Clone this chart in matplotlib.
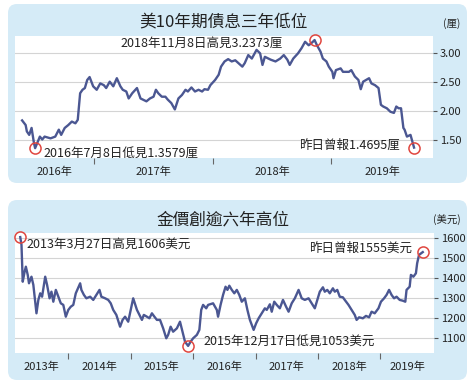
import matplotlib
matplotlib.use("Agg")
import matplotlib.pyplot as plt
from matplotlib.patches import FancyBboxPatch

plt.rcParams['font.family'] = ['Noto Sans CJK TC', 'DejaVu Sans']

# US 10-year yield (decimal year, percent)
bond_t = [2016.39, 2016.42, 2016.43, 2016.45, 2016.47, 2016.49, 2016.50, 2016.53, 2016.54, 2016.56,
          2016.58, 2016.63, 2016.67, 2016.70, 2016.72, 2016.75, 2016.78, 2016.81, 2016.84, 2016.86,
          2016.88, 2016.90, 2016.92, 2016.94, 2016.96, 2016.99, 2017.02, 2017.05, 2017.08, 2017.10,
          2017.13, 2017.16, 2017.19, 2017.22, 2017.24, 2017.27, 2017.29, 2017.32, 2017.36, 2017.39,
          2017.41, 2017.44, 2017.47, 2017.50, 2017.52, 2017.54, 2017.57, 2017.60, 2017.62, 2017.65,
          2017.68, 2017.71, 2017.74, 2017.77, 2017.79, 2017.82, 2017.85, 2017.88, 2017.91, 2017.93,
          2017.96, 2017.98, 2018.02, 2018.05, 2018.07, 2018.10, 2018.13, 2018.16, 2018.19,
          2018.25, 2018.27, 2018.30, 2018.33, 2018.37, 2018.40, 2018.42, 2018.44, 2018.49, 2018.53,
          2018.57, 2018.60, 2018.63, 2018.65, 2018.68, 2018.72, 2018.75, 2018.78, 2018.81, 2018.83,
          2018.86, 2018.88, 2018.91, 2018.93, 2018.96, 2018.98, 2019.01, 2019.02, 2019.04, 2019.08,
          2019.10, 2019.15, 2019.17, 2019.20, 2019.23, 2019.25, 2019.27, 2019.32, 2019.34, 2019.37,
          2019.40, 2019.42, 2019.44, 2019.47, 2019.50, 2019.53, 2019.55, 2019.57, 2019.59, 2019.61,
          2019.62, 2019.64, 2019.67, 2019.70]
bond_y = [1.84, 1.76, 1.65, 1.59, 1.71, 1.45, 1.36, 1.51, 1.56, 1.51,
          1.56, 1.53, 1.56, 1.68, 1.59, 1.71, 1.76, 1.82, 1.79, 1.85,
          2.31, 2.37, 2.40, 2.54, 2.59, 2.43, 2.37, 2.48, 2.45, 2.40,
          2.51, 2.43, 2.57, 2.43, 2.37, 2.34, 2.22, 2.31, 2.40, 2.22,
          2.20, 2.17, 2.22, 2.25, 2.37, 2.31, 2.25, 2.25, 2.20, 2.14,
          2.03, 2.22, 2.28, 2.37, 2.34, 2.41, 2.34, 2.37, 2.34, 2.38,
          2.37, 2.45, 2.54, 2.63, 2.77, 2.86, 2.90, 2.86, 2.88,
          2.77, 2.83, 2.97, 2.91, 3.06, 3.00, 2.80, 2.94, 2.89, 2.86,
          2.91, 2.97, 2.89, 2.80, 2.91, 3.00, 3.09, 3.20, 3.14, 3.17,
          3.23, 3.14, 3.03, 2.91, 2.86, 2.77, 2.68, 2.57, 2.71, 2.74,
          2.68, 2.68, 2.71, 2.60, 2.54, 2.38, 2.51, 2.57, 2.48, 2.45,
          2.40, 2.11, 2.08, 2.05, 1.99, 1.97, 2.08, 2.05, 2.05, 1.71,
          1.68, 1.56, 1.59, 1.37]
bond_marks_t = [2016.50, 2018.86, 2019.70]
bond_marks_y = [1.36, 3.23, 1.37]
bond_notes = ['2016年7月8日低見1.3579厘', '2018年11月8日高見3.2373厘', '昨日曾報1.4695厘']

# gold price (decimal year, USD)
gold_t = [2013.23, 2013.25, 2013.27, 2013.30, 2013.32, 2013.35, 2013.37, 2013.41, 2013.44, 2013.47,
          2013.49, 2013.52, 2013.55, 2013.58, 2013.63, 2013.66, 2013.70, 2013.73, 2013.76, 2013.80,
          2013.84, 2013.88, 2013.92, 2013.96, 2014.00, 2014.04, 2014.08, 2014.12, 2014.19, 2014.21,
          2014.25, 2014.29, 2014.35, 2014.40, 2014.45, 2014.50, 2014.53, 2014.59, 2014.64, 2014.68,
          2014.72, 2014.77, 2014.83, 2014.87, 2014.91, 2014.96, 2015.00, 2015.04, 2015.10, 2015.14,
          2015.18, 2015.21, 2015.26, 2015.30, 2015.34, 2015.38, 2015.42, 2015.47, 2015.52, 2015.57,
          2015.60, 2015.64, 2015.68, 2015.74, 2015.79, 2015.83, 2015.87, 2015.92, 2015.96, 2016.00,
          2016.06, 2016.10, 2016.13, 2016.16, 2016.21, 2016.24, 2016.32, 2016.38, 2016.40, 2016.44,
          2016.48, 2016.52, 2016.55, 2016.58, 2016.62, 2016.66, 2016.70, 2016.74, 2016.78, 2016.83,
          2016.87, 2016.91, 2016.97, 2017.01, 2017.05, 2017.10, 2017.15, 2017.18, 2017.23, 2017.26,
          2017.30, 2017.34, 2017.39, 2017.44, 2017.49, 2017.53, 2017.58, 2017.63, 2017.69, 2017.74,
          2017.79, 2017.85, 2017.95, 2018.03, 2018.08, 2018.11, 2018.15, 2018.19, 2018.24, 2018.27,
          2018.31, 2018.35, 2018.40, 2018.43, 2018.49, 2018.54, 2018.59, 2018.62, 2018.66, 2018.72,
          2018.77, 2018.82, 2018.86, 2018.91, 2018.97, 2019.01, 2019.06, 2019.10, 2019.14, 2019.18,
          2019.22, 2019.26, 2019.31, 2019.36, 2019.40, 2019.42, 2019.47, 2019.49, 2019.53, 2019.57,
          2019.59, 2019.62, 2019.68]
gold_y = [1606, 1567, 1383, 1433, 1458, 1417, 1375, 1408, 1367, 1283,
          1225, 1292, 1325, 1308, 1408, 1367, 1300, 1333, 1283, 1342,
          1308, 1275, 1267, 1208, 1242, 1258, 1267, 1325, 1375, 1342,
          1317, 1300, 1308, 1292, 1317, 1342, 1308, 1300, 1292, 1275,
          1242, 1217, 1158, 1192, 1208, 1183, 1242, 1300, 1242, 1217,
          1192, 1217, 1208, 1200, 1225, 1208, 1192, 1192, 1150, 1100,
          1117, 1158, 1133, 1150, 1183, 1133, 1083, 1062, 1083, 1100,
          1117, 1142, 1242, 1267, 1250, 1267, 1275, 1242, 1208, 1267,
          1317, 1358, 1342, 1363, 1342, 1325, 1342, 1317, 1283, 1300,
          1242, 1192, 1142, 1175, 1200, 1225, 1250, 1242, 1270, 1233,
          1283, 1267, 1250, 1292, 1258, 1233, 1275, 1300, 1342, 1300,
          1292, 1300, 1250, 1333, 1355, 1333, 1342, 1325, 1350, 1333,
          1342, 1308, 1305, 1292, 1267, 1242, 1217, 1192, 1205, 1200,
          1212, 1205, 1233, 1225, 1250, 1283, 1300, 1317, 1342, 1317,
          1300, 1308, 1292, 1288, 1283, 1342, 1358, 1417, 1408, 1425,
          1475, 1517, 1531]
gold_marks_t = [2013.23, 2015.92, 2019.68]
gold_marks_y = [1606, 1062, 1531]
gold_notes = ['2013年3月27日高見1606美元', '2015年12月17日低見1053美元', '昨日曾報1555美元']

W, H = 474, 390
PANEL = '#d5ebf7'
LINE = '#4b5792'
RED = '#e0463f'
TXT = '#222222'

fig = plt.figure(figsize=(W / 100, H / 100), dpi=100)
bg = fig.add_axes([0, 0, 1, 1])
bg.set_xlim(0, W)
bg.set_ylim(H, 0)
bg.axis('off')
for y0, h in [(4, 179), (200, 180)]:
    bg.add_patch(FancyBboxPatch((8, y0), 459, h, boxstyle='round,pad=0,rounding_size=9',
                                fc=PANEL, ec='none'))
bg.text(223, 23, '美10年期債息三年低位', fontsize=12, ha='center', va='center', color=TXT)
bg.text(452, 24, '(厘)', fontsize=7.5, ha='center', va='center', color=TXT)
bg.text(223, 220, '金價創逾六年高位', fontsize=12, ha='center', va='center', color=TXT)
bg.text(447, 220, '(美元)', fontsize=7.5, ha='center', va='center', color=TXT)


def px_axes(left, top, right, bottom):
    return fig.add_axes([left / W, 1 - bottom / H, (right - left) / W, (bottom - top) / H])


def style(ax, xlim, ylim, yticks, ylabels, years, centers, labels):
    ax.set_facecolor('white')
    ax.set_xlim(*xlim)
    ax.set_ylim(*ylim)
    for s in ax.spines.values():
        s.set_visible(False)
    ax.yaxis.tick_right()
    ax.set_yticks(yticks)
    ax.set_yticklabels(ylabels)
    ax.grid(axis='y', color='#d4d4d4', lw=0.8)
    ax.set_axisbelow(True)
    ax.tick_params(axis='y', length=3, width=0.8, pad=2, labelsize=8, colors='#555555',
                   labelcolor=TXT)
    ax.set_xticks(years)
    ax.set_xticklabels([])
    ax.set_xticks(centers, minor=True)
    ax.set_xticklabels(labels, minor=True)
    ax.tick_params(axis='x', which='major', length=4, width=0.8, color='#666666')
    ax.tick_params(axis='x', which='minor', length=0, pad=6, labelsize=8, labelcolor=TXT)


def marks(ax, t, y, notes, offsets):
    ax.plot(t, y, 'o', ms=8, mfc='none', mec=RED, mew=1.1, zorder=5, clip_on=False)
    for xi, yi, s, (dx, dy, ha) in zip(t, y, notes, offsets):
        ax.annotate(s, (xi, yi), xytext=(dx, dy), textcoords='offset pixels',
                    ha=ha, va='center', fontsize=9, color=TXT)


ax1 = px_axes(15, 36, 433, 158)
ax1.plot(bond_t, bond_y, color=LINE, lw=1.7, zorder=3)
style(ax1, (2016.33, 2019.86), (1.19, 3.30), [1.5, 2.0, 2.5, 3.0],
      ['1.50', '2.00', '2.50', '3.00'], [2017, 2018, 2019],
      [2016.665, 2017.5, 2018.5, 2019.43], ['2016年', '2017年', '2018年', '2019年'])
marks(ax1, bond_marks_t, bond_marks_y, bond_notes,
      [(8, -5, 'left'), (-32, -3, 'right'), (-14, 2, 'right')])

ax2 = px_axes(15, 233, 434, 353)
ax2.plot(gold_t, gold_y, color=LINE, lw=1.7, zorder=3)
style(ax2, (2013.146, 2019.86), (1026.5, 1626.5), [1100, 1200, 1300, 1400, 1500, 1600],
      ['1100', '1200', '1300', '1400', '1500', '1600'],
      [2014, 2015, 2016, 2017, 2018, 2019],
      [2013.573, 2014.5, 2015.5, 2016.5, 2017.5, 2018.5, 2019.43],
      ['2013年', '2014年', '2015年', '2016年', '2017年', '2018年', '2019年'])
marks(ax2, gold_marks_t, gold_marks_y, gold_notes,
      [(6, -7, 'left'), (15, 4, 'left'), (-11, 4, 'right')])

fig.savefig('out.png', dpi=100)
